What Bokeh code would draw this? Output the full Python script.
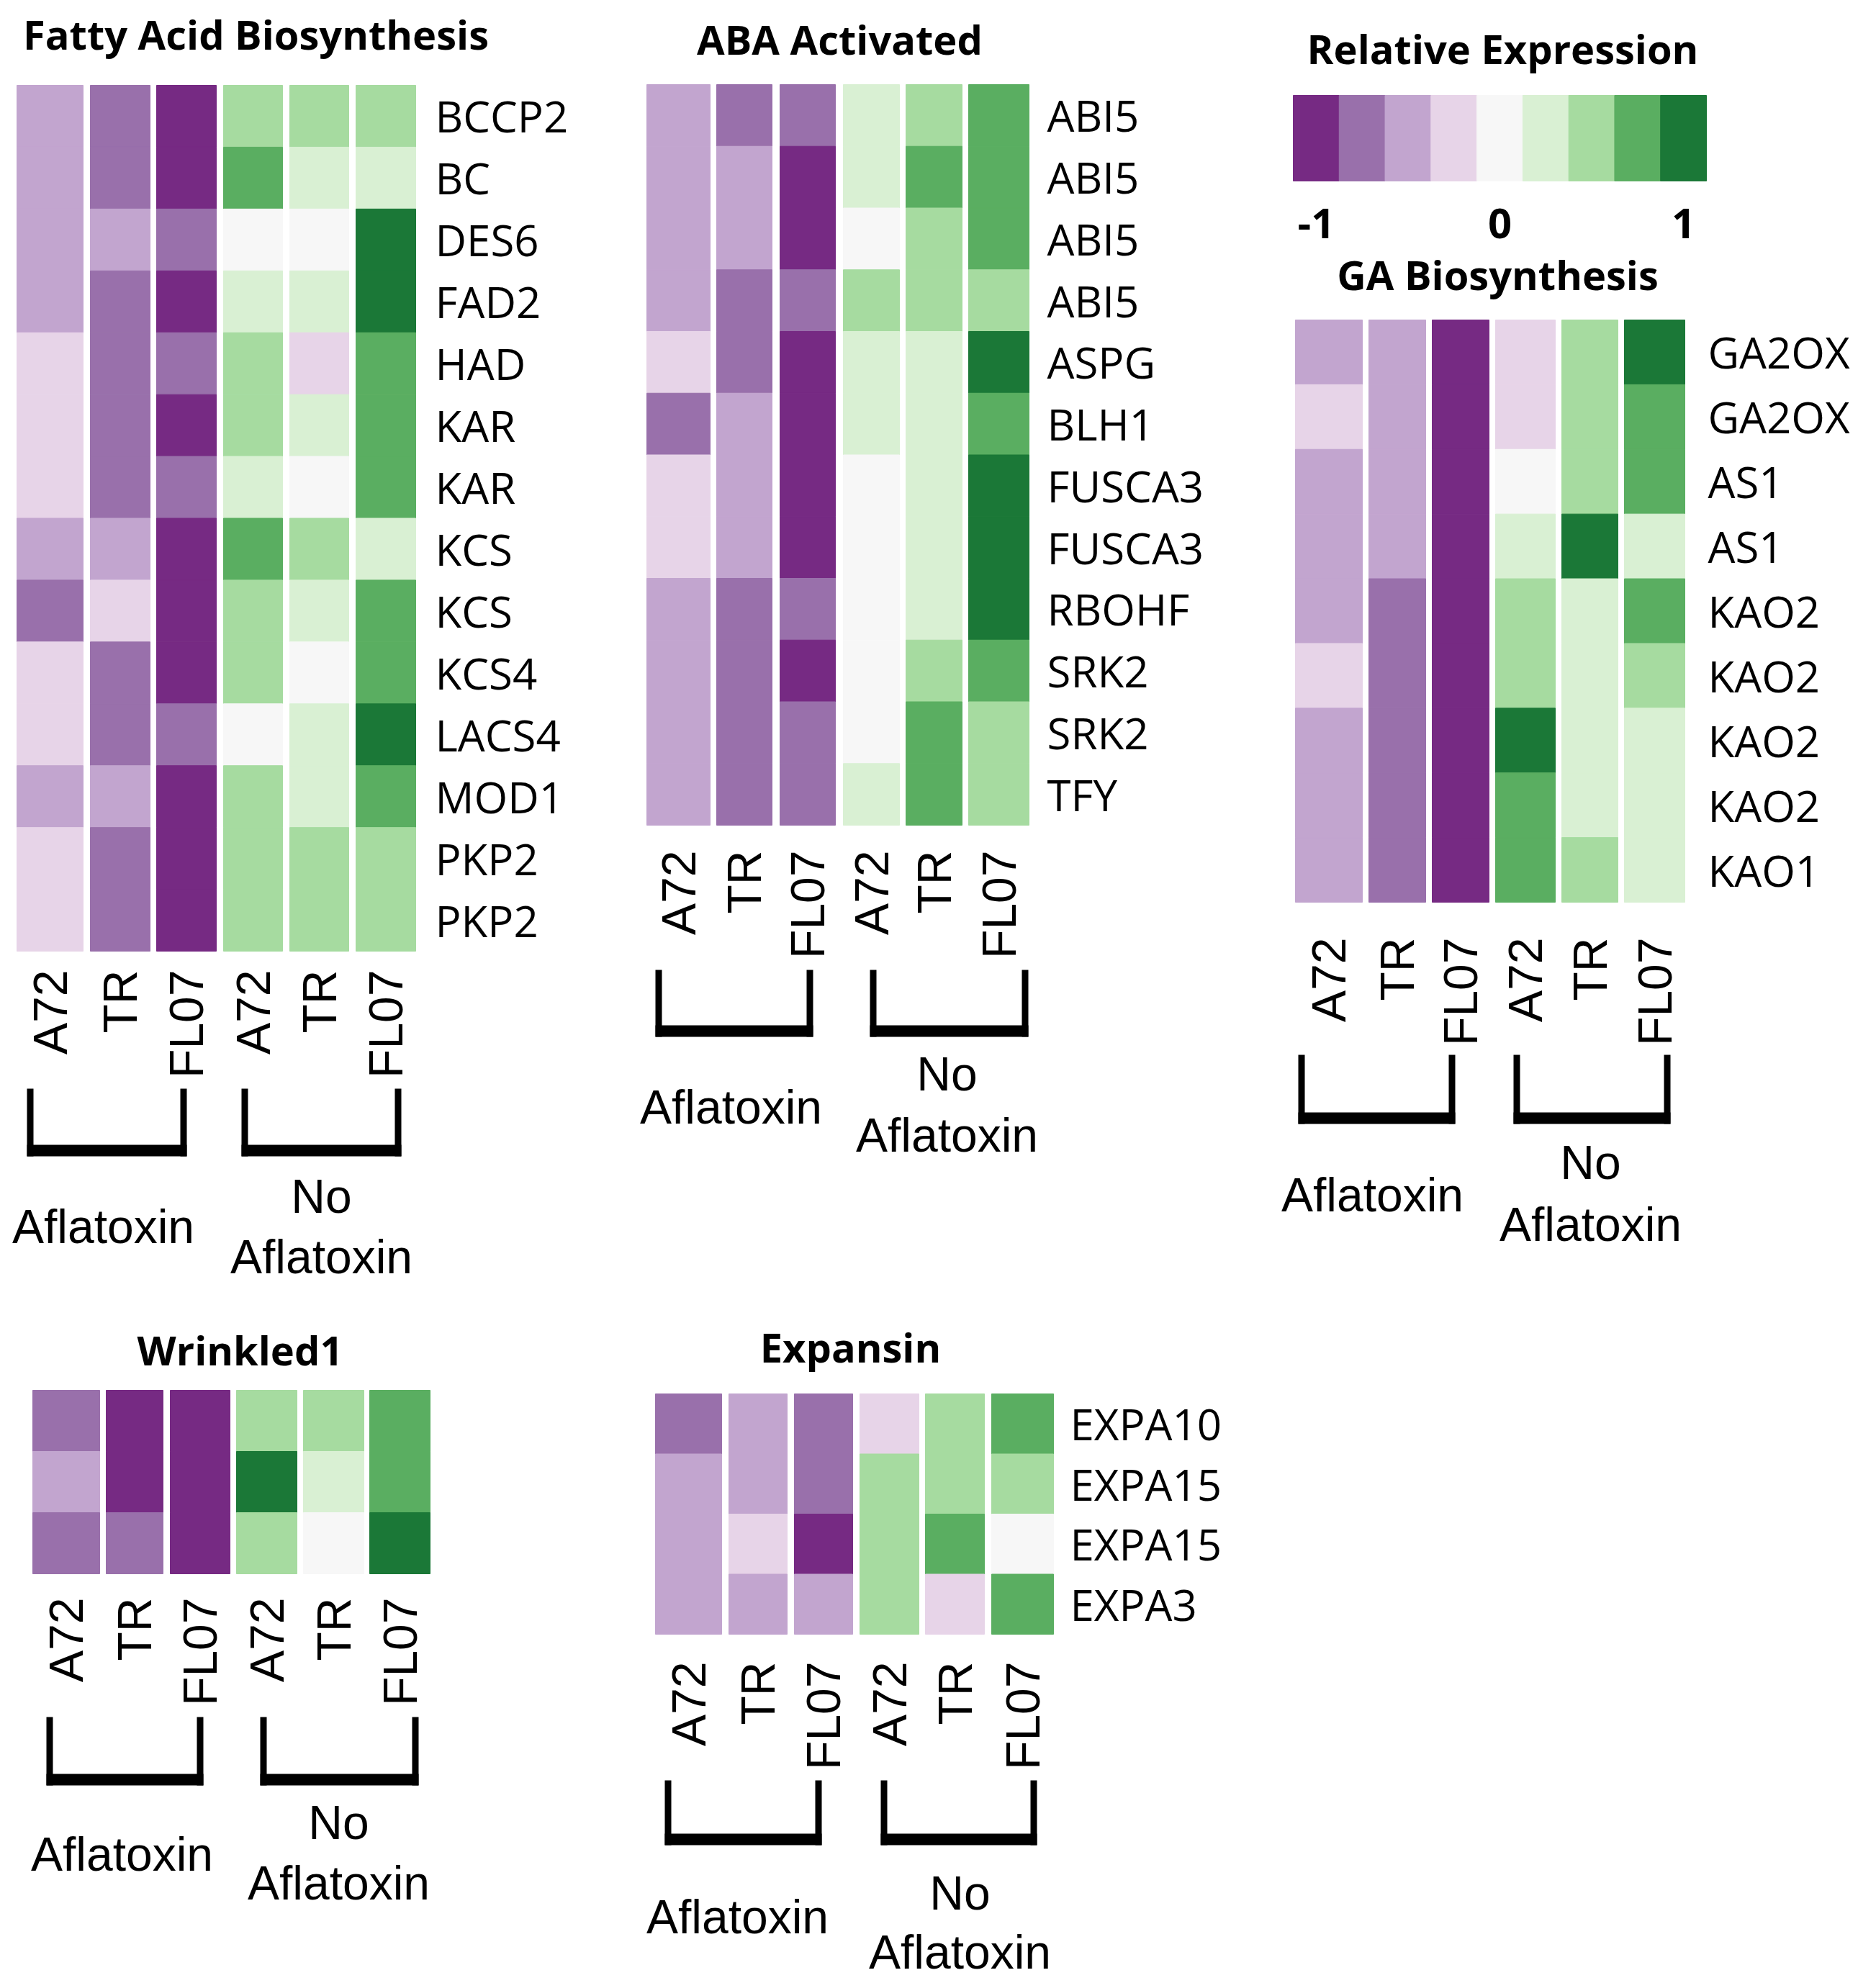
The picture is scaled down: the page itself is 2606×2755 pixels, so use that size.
import math
from bokeh.plotting import figure
from bokeh.models import ColumnDataSource, LinearColorMapper, Range1d
from bokeh.transform import transform
from bokeh.core.properties import value
from bokeh.embed import file_html
from bokeh.resources import INLINE

# ---------------- data ----------------
conditions = ["A72", "TR", "FL07", "A72", "TR", "FL07"]
group_names = ["Aflatoxin", "No\nAflatoxin"]
legend_values = [-1, -0.75, -0.5, -0.25, 0, 0.25, 0.5, 0.75, 1]
legend_ticks = [-1, 0, 1]
palette = ["#762a83", "#9970ab", "#c2a5cf", "#e7d4e8", "#f7f7f7",
           "#d9f0d3", "#a6dba0", "#5aae61", "#1b7837"]

fatty_genes = ["BCCP2", "BC", "DES6", "FAD2", "HAD", "KAR", "KAR", "KCS", "KCS",
               "KCS4", "LACS4", "MOD1", "PKP2", "PKP2"]
fatty_values = [
    [-0.5, -0.75, -1, 0.5, 0.5, 0.5],
    [-0.5, -0.75, -1, 0.75, 0.25, 0.25],
    [-0.5, -0.5, -0.75, 0, 0, 1],
    [-0.5, -0.75, -1, 0.25, 0.25, 1],
    [-0.25, -0.75, -0.75, 0.5, -0.25, 0.75],
    [-0.25, -0.75, -1, 0.5, 0.25, 0.75],
    [-0.25, -0.75, -0.75, 0.25, 0, 0.75],
    [-0.5, -0.5, -1, 0.75, 0.5, 0.25],
    [-0.75, -0.25, -1, 0.5, 0.25, 0.75],
    [-0.25, -0.75, -1, 0.5, 0, 0.75],
    [-0.25, -0.75, -0.75, 0, 0.25, 1],
    [-0.5, -0.5, -1, 0.5, 0.25, 0.75],
    [-0.25, -0.75, -1, 0.5, 0.5, 0.5],
    [-0.25, -0.75, -1, 0.5, 0.5, 0.5],
]

aba_genes = ["ABI5", "ABI5", "ABI5", "ABI5", "ASPG", "BLH1", "FUSCA3", "FUSCA3",
             "RBOHF", "SRK2", "SRK2", "TFY"]
aba_values = [
    [-0.5, -0.75, -0.75, 0.25, 0.5, 0.75],
    [-0.5, -0.5, -1, 0.25, 0.75, 0.75],
    [-0.5, -0.5, -1, 0, 0.5, 0.75],
    [-0.5, -0.75, -0.75, 0.5, 0.5, 0.5],
    [-0.25, -0.75, -1, 0.25, 0.25, 1],
    [-0.75, -0.5, -1, 0.25, 0.25, 0.75],
    [-0.25, -0.5, -1, 0, 0.25, 1],
    [-0.25, -0.5, -1, 0, 0.25, 1],
    [-0.5, -0.75, -0.75, 0, 0.25, 1],
    [-0.5, -0.75, -1, 0, 0.5, 0.75],
    [-0.5, -0.75, -0.75, 0, 0.75, 0.5],
    [-0.5, -0.75, -0.75, 0.25, 0.75, 0.5],
]

ga_genes = ["GA2OX", "GA2OX", "AS1", "AS1", "KAO2", "KAO2", "KAO2", "KAO2", "KAO1"]
ga_values = [
    [-0.5, -0.5, -1, -0.25, 0.5, 1],
    [-0.25, -0.5, -1, -0.25, 0.5, 0.75],
    [-0.5, -0.5, -1, 0, 0.5, 0.75],
    [-0.5, -0.5, -1, 0.25, 1, 0.25],
    [-0.5, -0.75, -1, 0.5, 0.25, 0.75],
    [-0.25, -0.75, -1, 0.5, 0.25, 0.5],
    [-0.5, -0.75, -1, 1, 0.25, 0.25],
    [-0.5, -0.75, -1, 0.75, 0.25, 0.25],
    [-0.5, -0.75, -1, 0.75, 0.5, 0.25],
]

wri_genes = ["", "", ""]
wri_values = [
    [-0.75, -1, -1, 0.5, 0.5, 0.75],
    [-0.5, -1, -1, 1, 0.25, 0.75],
    [-0.75, -0.75, -1, 0.5, 0, 1],
]

exp_genes = ["EXPA10", "EXPA15", "EXPA15", "EXPA3"]
exp_values = [
    [-0.75, -0.5, -0.75, -0.25, 0.5, 0.75],
    [-0.5, -0.5, -0.75, 0.5, 0.5, 0.5],
    [-0.5, -0.25, -1, 0.5, 0.75, 0],
    [-0.5, -0.5, -0.5, 0.5, -0.25, 0.75],
]

# ---------------- layout (page pixel coordinates) ----------------
panels = [
    dict(title="Fatty Acid Biosynthesis", genes=fatty_genes, vals=fatty_values,
         cols=[(23, 115), (125, 208), (217, 300), (310, 392), (402, 484), (494, 577)],
         top=118, bottom=1321, title_xy=(355, 46), label_x=604, clab_top=1347,
         brackets=[(37, 259), (335, 557)], br_y=(1512, 1606),
         grp=[(143, 1703), (446, 1661, 1745)]),
    dict(title="ABA Activated", genes=aba_genes, vals=aba_values,
         cols=[(898, 986), (995, 1072), (1083, 1160), (1171, 1249), (1258, 1336), (1345, 1429)],
         top=117, bottom=1146, title_xy=(1166, 53), label_x=1454, clab_top=1181,
         brackets=[(910, 1129), (1208, 1428)], br_y=(1347, 1440),
         grp=[(1015, 1537), (1315, 1491, 1576)]),
    dict(title="GA Biosynthesis", genes=ga_genes, vals=ga_values,
         cols=[(1799, 1892), (1901, 1980), (1989, 2068), (2077, 2160), (2169, 2247), (2256, 2340)],
         top=444, bottom=1253, title_xy=(2080, 380), label_x=2372, clab_top=1302,
         brackets=[(1803, 2021), (2102, 2320)], br_y=(1465, 1561),
         grp=[(1906, 1659), (2209, 1614, 1700)]),
    dict(title="Wrinkled1", genes=wri_genes, vals=wri_values,
         cols=[(45, 138), (147, 226), (236, 319), (328, 412), (421, 505), (513, 597)],
         top=1931, bottom=2186, title_xy=(333, 1874), label_x=620, clab_top=2219,
         brackets=[(64, 282), (361, 581)], br_y=(2385, 2480),
         grp=[(169, 2575), (470, 2531, 2615)]),
    dict(title="Expansin", genes=exp_genes, vals=exp_values,
         cols=[(910, 1002), (1012, 1093), (1103, 1184), (1194, 1276), (1285, 1367), (1377, 1463)],
         top=1936, bottom=2270, title_xy=(1181, 1870), label_x=1486, clab_top=2308,
         brackets=[(923, 1141), (1223, 1440)], br_y=(2473, 2563),
         grp=[(1024, 2662), (1333, 2629, 2711)]),
]
legend_box = dict(left=1796, right=2370, top=132, bottom=251, title_xy=(2087, 66), tick_y=310)

W, H = 2600, 2750
p = figure(width=W, height=H, output_backend="svg", toolbar_location=None,
           x_range=Range1d(0, W), y_range=Range1d(H, 0),
           x_axis_location=None, y_axis_location=None, min_border=0)
p.grid.visible = False
p.outline_line_color = None
p.background_fill_color = "white"
p.border_fill_color = "white"

mapper = LinearColorMapper(palette=palette, low=-1.125, high=1.125)

cell = dict(left=[], right=[], top=[], bottom=[], v=[])
rowlab = dict(x=[], y=[], t=[])
collab = dict(x=[], y=[], t=[])
titles = dict(x=[], y=[], t=[])
grplab = dict(x=[], y=[], t=[])
bars = dict(left=[], right=[], top=[], bottom=[])

for pn in panels:
    n = len(pn["vals"])
    rh = (pn["bottom"] - pn["top"]) / n
    for r, row in enumerate(pn["vals"]):
        y0 = pn["top"] + r * rh
        for c, v in enumerate(row):
            l, rr = pn["cols"][c]
            cell["left"].append(l); cell["right"].append(rr)
            cell["top"].append(y0); cell["bottom"].append(y0 + rh)
            cell["v"].append(v)
        if pn["genes"][r]:
            rowlab["x"].append(pn["label_x"]); rowlab["y"].append(y0 + rh / 2)
            rowlab["t"].append(pn["genes"][r])
    for c, name in enumerate(conditions):
        l, rr = pn["cols"][c]
        collab["x"].append((l + rr) / 2); collab["y"].append(pn["clab_top"])
        collab["t"].append(name)
    titles["x"].append(pn["title_xy"][0]); titles["y"].append(pn["title_xy"][1])
    titles["t"].append(pn["title"])
    yt, yb = pn["br_y"]
    for (x0, x1) in pn["brackets"]:
        bars["left"] += [x0, x1 - 9, x0]
        bars["right"] += [x0 + 9, x1, x1]
        bars["top"] += [yt, yt, yb - 16]
        bars["bottom"] += [yb, yb, yb]
    g1, g2 = pn["grp"]
    grplab["x"].append(g1[0]); grplab["y"].append(g1[1]); grplab["t"].append(group_names[0])
    lines = group_names[1].split("\n")
    grplab["x"] += [g2[0], g2[0]]; grplab["y"] += [g2[1], g2[2]]; grplab["t"] += lines

p.quad(left="left", right="right", top="top", bottom="bottom",
       source=ColumnDataSource(cell), fill_color=transform("v", mapper),
       line_color=transform("v", mapper), line_width=1)
p.quad(left="left", right="right", top="top", bottom="bottom",
       source=ColumnDataSource(bars), fill_color="black", line_color=None)

# legend
nb = len(legend_values)
bw = (legend_box["right"] - legend_box["left"]) / nb
leg = dict(left=[legend_box["left"] + i * bw for i in range(nb)],
           right=[legend_box["left"] + (i + 1) * bw for i in range(nb)],
           top=[legend_box["top"]] * nb, bottom=[legend_box["bottom"]] * nb, v=legend_values)
p.quad(left="left", right="right", top="top", bottom="bottom",
       source=ColumnDataSource(leg), fill_color=transform("v", mapper),
       line_color=transform("v", mapper), line_width=1)
tick = dict(x=[legend_box["left"] + (legend_values.index(t) + 0.5) * bw for t in legend_ticks],
            y=[legend_box["tick_y"]] * len(legend_ticks), t=[str(t) for t in legend_ticks])
titles["x"].append(legend_box["title_xy"][0]); titles["y"].append(legend_box["title_xy"][1])
titles["t"].append("Relative Expression")

p.text(x="x", y="y", text="t", source=ColumnDataSource(titles), text_font=value("Open Sans"),
       text_font_style="bold", text_font_size="56px", text_align="center",
       text_baseline="middle", text_color="black")
p.text(x="x", y="y", text="t", source=ColumnDataSource(tick), text_font=value("Open Sans"),
       text_font_style="bold", text_font_size="58px", text_align="center",
       text_baseline="middle", text_color="black")
p.text(x="x", y="y", text="t", source=ColumnDataSource(rowlab), text_font=value("Open Sans"),
       text_font_size="60px", text_align="left", text_baseline="middle", text_color="black")
p.text(x="x", y="y", text="t", source=ColumnDataSource(collab), text_font=value("Liberation Sans"),
       text_font_size="66px", text_align="right", text_baseline="middle", angle=math.pi / 2,
       text_color="black")
p.text(x="x", y="y", text="t", source=ColumnDataSource(grplab), text_font=value("Liberation Sans"),
       text_font_size="66px", text_align="center", text_baseline="middle", text_color="black")

open("out.html", "w").write(file_html(p, INLINE))
